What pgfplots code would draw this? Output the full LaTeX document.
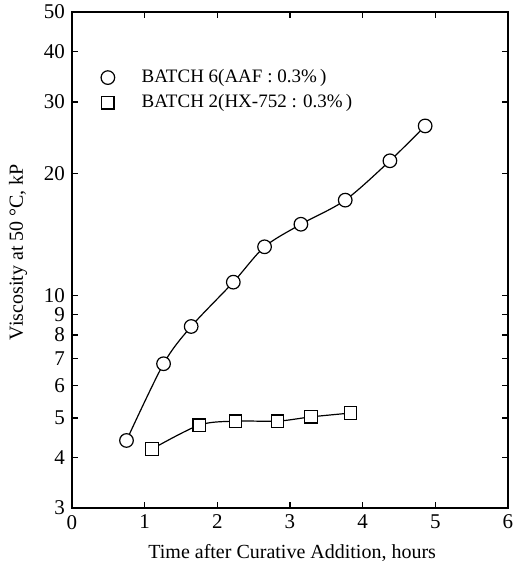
\documentclass[border=0pt]{standalone}
\usepackage{fontspec}
\setmainfont{Liberation Serif}
\usepackage{pgfplots}
\pgfplotsset{compat=1.18}

\begin{document}
\begin{tikzpicture}
  \begin{axis}[
      scale only axis,
      width=218pt, height=248pt,
      ymode=log,
      xmin=0, xmax=6, ymin=3, ymax=50,
      xtick={0,1,2,3,4,5,6},
      ytick={3,4,5,6,7,8,9,10,20,30,40,50},
      yticklabels={3,4,5,6,7,8,9,10,20,30,40,50},
      minor ytick={},
      tick align=inside,
      major tick length=3pt,
      axis line style={line width=0.8pt},
      tick style={line width=0.6pt, black},
      /pgf/number format/assume math mode=true,
      ticklabel style={font=\fontsize{10.5}{12}\selectfont},
      every axis y label/.style={at={(axis description cs:0,0.516)}, xshift=-27pt, rotate=90, anchor=center, font=\fontsize{10}{12}\selectfont},
      every axis x label/.style={at={(axis description cs:0.505,0)}, yshift=-22.5pt, anchor=center, font=\fontsize{10}{12}\selectfont},
      xlabel={Time after Curative Addition, hours},
      ylabel={Viscosity at 50 °C, kP},
      legend style={at={(0.052,0.901)}, anchor=north west, draw=none, fill=none,
                    font=\fontsize{9.5}{11}\selectfont, row sep=0.5pt,
                    legend cell align=left},
      legend image code/.code={\draw[#1] plot coordinates {(0.25cm,0cm)};},
    ]
    \addplot[black, line width=0.6pt, smooth, mark=*, mark size=3.4pt,
             mark options={fill=white, line width=0.6pt}] coordinates {
      (0.75,4.4) (1.26,6.8) (1.64,8.4) (2.22,10.8) (2.65,13.2)
      (3.15,15.0) (3.76,17.2) (4.375,21.5) (4.86,26.2)
    };
    \addplot[black, line width=0.6pt, smooth, mark=square*, mark size=3.1pt,
             mark options={fill=white, line width=0.6pt}] coordinates {
      (1.10,4.19) (1.75,4.80) (2.25,4.91) (2.83,4.91) (3.29,5.03) (3.83,5.14)
    };
    \legend{\hspace{11.5pt}BATCH 6(AAF : 0.3\%\,), \hspace{11.5pt}BATCH 2(HX-752 : 0.3\%\,)}
  \end{axis}
  \pgfresetboundingbox
  \path ([shift={(-36pt,-30.5pt)}]current axis.south west) rectangle ([shift={(3pt,6pt)}]current axis.north east);
\end{tikzpicture}
\end{document}
